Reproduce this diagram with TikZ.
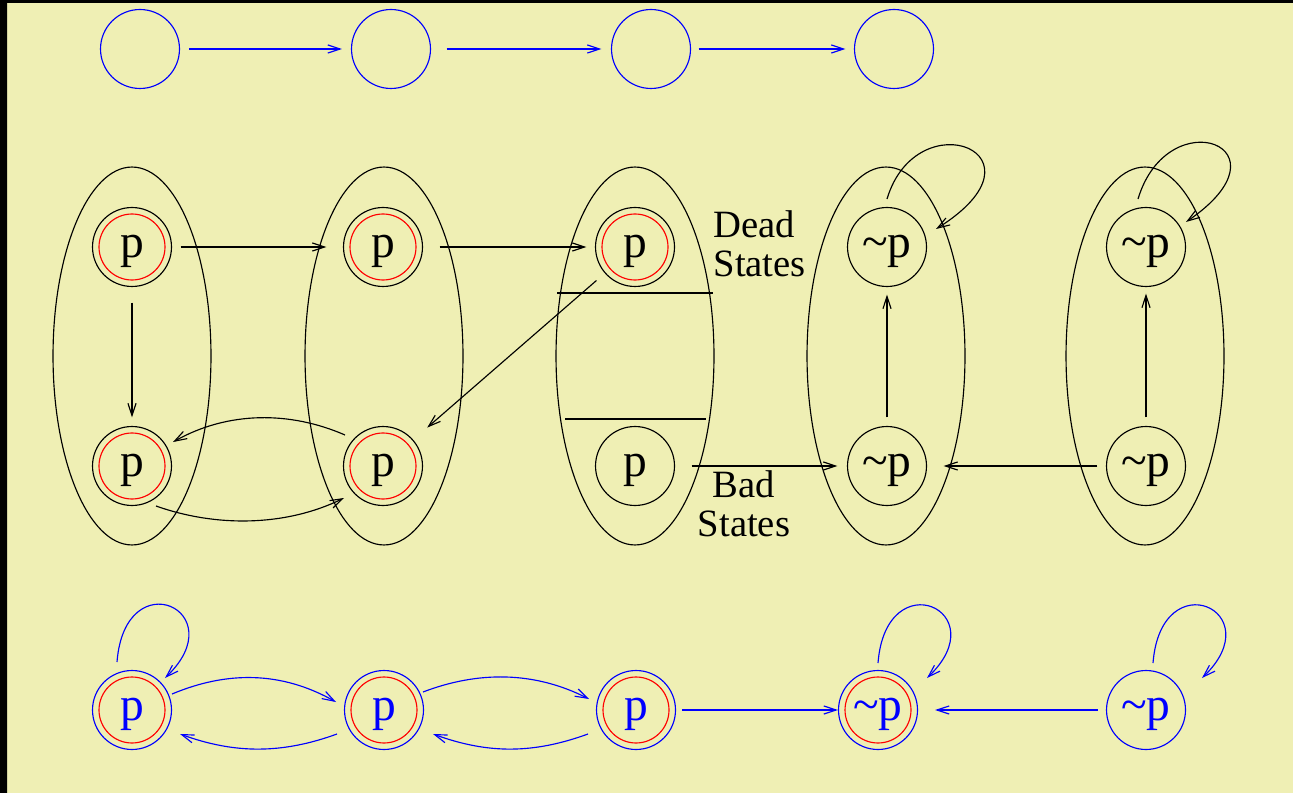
\documentclass[tikz,border=0pt]{standalone}
\usepackage{fontspec}
\setmainfont{Liberation Serif}
\usetikzlibrary{arrows.meta,shapes.geometric}
\definecolor{paper}{RGB}{239,239,180}
\tikzset{
  state/.style={
    circle, draw, inner sep=0pt, minimum size=1.58cm,
    font=\fontsize{27}{27}\selectfont,
    text height=19pt, text depth=7pt},
  final/.style={
    state,
    path picture={\draw[red] (path picture bounding box.center) circle (0.66cm);}},
  group/.style={
    ellipse, draw, inner sep=0pt,
    minimum width=3.16cm, minimum height=7.56cm},
  note/.style={inner sep=0pt, font=\fontsize{22}{22}\selectfont},
  myarrow/.style={-{Straight Barb[length=7pt,width=4.6pt]}},
}
\newcommand{\notp}{\textasciitilde p}

\begin{document}
\begin{tikzpicture}[x=0.02cm, y=-0.02cm, line width=0.65pt]
  \fill[paper] (0,0) rectangle (1293,793);
  \fill[black] (0,0) rectangle (7,793) (0,0) rectangle (1293,3);
  \useasboundingbox (0,0) rectangle (1293,793);

  \begin{scope}[blue]
    \node[state] (t1) at (140,49) {};
    \node[state] (t2) at (391,49) {};
    \node[state] (t3) at (651,49) {};
    \node[state] (t4) at (894,49) {};
    \draw[myarrow, shorten <=0.18cm, shorten >=0.18cm] (t1) -- (t2);
    \draw[myarrow, shorten <=0.31cm, shorten >=0.19cm] (t2) -- (t3);
    \draw[myarrow, shorten <=0.15cm, shorten >=0.17cm] (t3) -- (t4);
  \end{scope}

  \node[group] (g1) at (132,356) {};
  \node[group] (g2) at (384,356) {};
  \node[group] (g3) at (635,356) {};
  \node[group] (g4) at (886,356) {};
  \node[group] (g5) at (1145,356) {};
  \node[final] (m1t) at (132,247) {p};
  \node[final] (m1b) at (132,466) {p};
  \node[final] (m2t) at (383,247) {p};
  \node[final] (m2b) at (383,466) {p};
  \node[final] (m3t) at (635,247) {p};
  \node[state] (m3b) at (635,466) {p};
  \node[state] (m4t) at (887,247) {\notp};
  \node[state] (m4b) at (887,466) {\notp};
  \node[state] (m5t) at (1146,247) {\notp};
  \node[state] (m5b) at (1146,466) {\notp};
  \draw (557,293) -- (713,293) (565,419) -- (706,419);
  \node[note, align=left, anchor=west] (dead) at (713,244) {Dead\\States};
  \node[note, align=center] (bad) at (744,504) {Bad\\States};

  \draw[myarrow, shorten <=0.17cm, shorten >=0.33cm] (m1t) -- (m2t);
  \draw[myarrow, shorten <=0.33cm, shorten >=0.17cm] (m2t) -- (m3t);
  \draw[myarrow, shorten <=0.31cm, shorten >=0.17cm] (m1t) -- (m1b);
  \draw[myarrow, shorten <=0.22cm, shorten >=0.37cm] (m3t) -- (m2b);
  \draw[myarrow, shorten <=0.33cm, shorten >=0.19cm] (m3b) -- (m4b);
  \draw[myarrow, shorten <=0.17cm, shorten >=0.33cm] (m5b) -- (m4b);
  \draw[myarrow, shorten <=0.17cm, shorten >=0.15cm] (m4b) -- (m4t);
  \draw[myarrow, shorten <=0.17cm, shorten >=0.13cm] (m5b) -- (m5t);
  \draw[myarrow] ([shift={(-38,-31)}]m2b.center) .. controls +(-55,-24) and +(55,-31) .. ([shift={(41,-24)}]m1b.center);
  \draw[myarrow] ([shift={(24,40)}]m1b.center) .. controls +(59,21) and +(-59,29) .. ([shift={(-39,32)}]m2b.center);
  \draw[myarrow] ([shift={(0,-48)}]m4t.center) .. controls +(30,-100) and +(120,-75) .. ([shift={(49,-18)}]m4t.center);
  \draw[myarrow] ([shift={(-8,-48)}]m5t.center) .. controls +(30,-100) and +(110,-75) .. ([shift={(40,-25)}]m5t.center);

  \begin{scope}[blue]
    \node[final] (b1) at (132,710) {p};
    \node[final] (b2) at (384,710) {p};
    \node[final] (b3) at (636,710) {p};
    \node[final] (b4) at (878,710) {\notp};
    \node[state] (b5) at (1146,710) {\notp};
    \draw[myarrow] ([shift={(40,-16)}]b1.center) .. controls +(55,-23) and +(-55,-31) .. ([shift={(-48,-8)}]b2.center);
    \draw[myarrow] ([shift={(-47,24)}]b2.center) .. controls +(-55,20) and +(55,20) .. ([shift={(48,24)}]b1.center);
    \draw[myarrow] ([shift={(39,-18)}]b2.center) .. controls +(55,-21) and +(-55,-28) .. ([shift={(-47,-11)}]b3.center);
    \draw[myarrow] ([shift={(-48,24)}]b3.center) .. controls +(-55,20) and +(55,20) .. ([shift={(49,24)}]b2.center);
    \draw[myarrow, shorten <=0.12cm] (b3) -- (b4);
    \draw[myarrow, shorten <=0.16cm, shorten >=0.34cm] (b5) -- (b4);
    \draw[myarrow] ([shift={(-15,-48)}]b1.center) .. controls +(8,-102) and +(70,-67) .. ([shift={(33,-32)}]b1.center);
    \draw[myarrow] ([shift={(0,-47)}]b4.center) .. controls +(8,-102) and +(70,-67) .. ([shift={(49,-32)}]b4.center);
    \draw[myarrow] ([shift={(7,-47)}]b5.center) .. controls +(8,-102) and +(70,-67) .. ([shift={(56,-32)}]b5.center);
  \end{scope}
\end{tikzpicture}
\end{document}
